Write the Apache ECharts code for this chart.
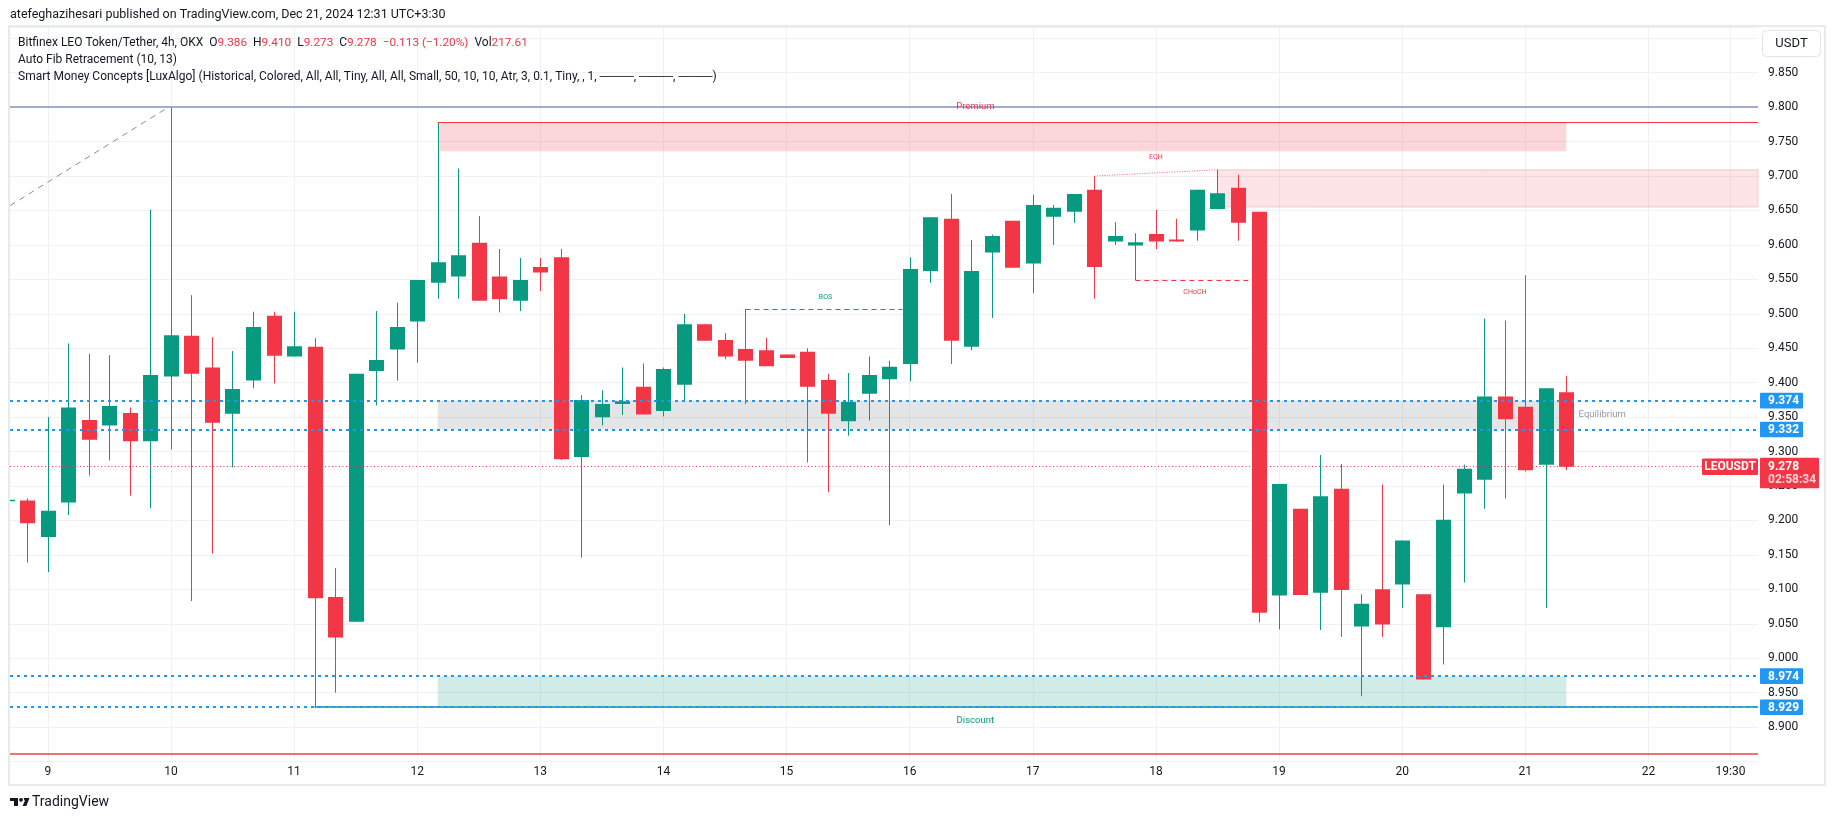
<!DOCTYPE html>
<html><head><meta charset="utf-8">
<script src="https://cdn.jsdelivr.net/npm/echarts@6/dist/echarts.min.js"></script>
<style>html,body{margin:0;padding:0;background:#fff;}#c{width:1835px;height:821px;}</style>
</head><body><div id="c"></div>
<script>
// ---------- data ----------
const firstIndex = -1; // candle index of first entry (partially visible candle)
const opens  = [9.228,9.229,9.176,9.226,9.346,9.338,9.356,9.315,9.409,9.468,9.422,9.355,9.403,9.497,9.438,9.452,9.089,9.053,9.417,9.448,9.489,9.545,9.554,9.603,9.554,9.519,9.568,9.582,9.292,9.350,9.369,9.394,9.359,9.397,9.485,9.462,9.449,9.447,9.441,9.445,9.404,9.344,9.384,9.405,9.427,9.562,9.638,9.452,9.589,9.635,9.573,9.641,9.648,9.680,9.605,9.599,9.616,9.608,9.621,9.652,9.683,9.648,9.091,9.217,9.095,9.246,9.046,9.100,9.107,9.093,9.045,9.239,9.259,9.380,9.365,9.281,9.386];
const highs  = [9.232,9.232,9.350,9.457,9.442,9.440,9.364,9.651,9.800,9.527,9.466,9.446,9.503,9.503,9.503,9.465,9.131,9.413,9.504,9.516,9.549,9.778,9.711,9.642,9.594,9.581,9.581,9.594,9.382,9.389,9.422,9.428,9.422,9.500,9.485,9.472,9.507,9.465,9.441,9.450,9.413,9.414,9.438,9.432,9.582,9.640,9.674,9.607,9.615,9.635,9.673,9.658,9.674,9.700,9.633,9.617,9.651,9.638,9.680,9.709,9.702,9.648,9.253,9.217,9.295,9.282,9.093,9.252,9.171,9.093,9.252,9.281,9.493,9.490,9.556,9.392,9.410];
const lows   = [9.226,9.139,9.125,9.208,9.265,9.287,9.236,9.218,9.303,9.083,9.152,9.277,9.392,9.399,9.438,8.929,8.950,9.053,9.367,9.403,9.429,9.522,9.522,9.519,9.502,9.504,9.533,9.288,9.146,9.338,9.353,9.354,9.351,9.373,9.461,9.434,9.369,9.424,9.436,9.284,9.241,9.323,9.345,9.193,9.402,9.545,9.427,9.447,9.494,9.567,9.530,9.600,9.632,9.522,9.600,9.549,9.594,9.605,9.606,9.652,9.606,9.052,9.042,9.092,9.041,9.031,8.945,9.031,9.073,8.969,8.991,9.110,9.217,9.232,9.271,9.073,9.273];
const closes = [9.230,9.196,9.214,9.364,9.317,9.366,9.315,9.411,9.469,9.413,9.342,9.391,9.481,9.439,9.453,9.087,9.030,9.413,9.433,9.481,9.549,9.575,9.585,9.519,9.521,9.549,9.560,9.289,9.375,9.369,9.373,9.354,9.420,9.485,9.461,9.438,9.432,9.424,9.436,9.394,9.355,9.372,9.411,9.423,9.565,9.640,9.461,9.562,9.613,9.567,9.658,9.654,9.674,9.568,9.613,9.604,9.605,9.605,9.680,9.675,9.632,9.066,9.253,9.092,9.235,9.099,9.079,9.049,9.171,8.969,9.201,9.275,9.380,9.347,9.273,9.392,9.278];

// time axis ticks (candle index) and their labels
const timeTicks  = [1,7,13,19,25,31,37,43,49,55,61,67,73,79,83];
const timeLabels = ['9','10','11','12','13','14','15','16','17','18','19','20','21','22','19:30'];

// levels
const fibTopLevel = 9.800;
const fibBottomLevel = 8.862;
const blueLevels = [9.374, 9.332, 8.974, 8.929];
const lastPrice = 9.278;
const countdown = '02:58:34';
const symbolName = 'LEOUSDT';
const strongHigh = [20, 9.778];
const strongLow = [14, 8.929];
// zones: [xStart, xEnd, top, bottom]  (xEnd null = to right edge)
const premiumZone = [20, 75, 9.778, 9.736];
const supplyZone = [58, null, 9.709, 9.655];
const equilibriumZone = [20, 75, 9.374, 9.332];
const discountZone = [20, 75, 8.974, 8.929];
// structure lines
const bosLine = [35, 42.65, 9.507];
const chochLine = [54, 59.8, 9.549];
const eqhLine = [[52, 9.700], [58, 9.709]];
const fibTrend = [[-0.84, 9.657], [6.72, 9.797]];
// annotation texts: [x, price, text, color, align, size]
const annotations = [
  [46.2, 9.800, 'Premium', '#F23645', 'center', 9.5],
  [46.2, 8.910, 'Discount', '#089981', 'center', 9.5],
  [75.6, 9.354, 'Equilibrium', '#9598a1', 'left', 9.5],
  [38.9, 9.524, 'BOS', '#089981', 'center', 7],
  [56.9, 9.531, 'CHoCH', '#F23645', 'center', 7],
  [55.0, 9.727, 'EQH', '#F23645', 'center', 7]
];

const headerText = 'atefeghazihesari published on TradingView.com, Dec 21, 2024 12:31 UTC+3:30';
const legend1 = 'Bitfinex LEO Token/Tether, 4h, OKX  O{r|9.386}  H{r|9.410}  L{r|9.273}  C{r|9.278}  {r|\u22120.113 (\u22121.20%)}  Vol{r|217.61}';
const legend2 = 'Auto Fib Retracement (10, 13)';
const legend3 = 'Smart Money Concepts [LuxAlgo] (Historical, Colored, All, All, Tiny, All, All, Small, 50, 10, 10, Atr, 3, 0.1, Tiny, , 1, \u2500\u2500\u2500\u2500, \u2500\u2500\u2500\u2500, \u2500\u2500\u2500\u2500)';

// ---------- chart ----------
const UP = '#089981', DOWN = '#F23645', BLUE = '#2196F3';
const FONT = 'Roboto, "Noto Sans", sans-serif';
const X_MIN = -0.843, X_MAX = 84.342;
const Y_MIN = 8.85, Y_MAX = 9.9163;

const candleData = opens.map((o, i) => [firstIndex + i, o, closes[i], lows[i], highs[i]]);

function zoneArea(z, color, border) {
  return [{ coord: [z[0], z[2]], itemStyle: { color: color, borderColor: border || 'transparent', borderWidth: border ? 1 : 0 } },
          { coord: [z[1] === null ? X_MAX : z[1], z[3]] }];
}

const chart = echarts.init(document.getElementById('c'), null, { renderer: 'canvas' });
chart.setOption({
  animation: false,
  backgroundColor: '#ffffff',
  grid: { left: 10, right: 77, top: 27, bottom: 59.4, containLabel: false },
  xAxis: {
    type: 'value', min: X_MIN, max: X_MAX,
    axisLine: { show: false },
    axisTick: { show: false, customValues: timeTicks },
    axisLabel: {
      customValues: timeTicks, margin: 4, color: '#131722', fontSize: 12, fontFamily: FONT,
      formatter: v => { const k = timeTicks.findIndex(t => Math.abs(t - v) < 1e-6); return k >= 0 ? timeLabels[k] : ''; }
    },
    splitLine: { show: true, lineStyle: { color: '#f0f1f4', width: 1 } }
  },
  yAxis: {
    type: 'value', position: 'right', min: Y_MIN, max: Y_MAX, interval: 0.05,
    axisLine: { show: false }, axisTick: { show: false },
    axisLabel: {
      margin: 10, color: '#131722', fontSize: 12, fontFamily: FONT,
      formatter: v => { const k = Math.round(v * 20); if (Math.abs(v * 20 - k) > 1e-6 || k < 178 || k > 197) return ''; return v.toFixed(3); }
    },
    splitLine: { show: true, lineStyle: { color: '#f0f1f4', width: 1 } }
  },
  series: [
    { // zones
      type: 'line', data: [], silent: true, z: 1,
      markArea: {
        silent: true,
        data: [
          zoneArea(premiumZone, 'rgba(242,54,69,0.2)'),
          zoneArea(supplyZone, 'rgba(242,54,69,0.13)', 'rgba(242,54,69,0.22)'),
          zoneArea(equilibriumZone, 'rgba(120,123,134,0.2)'),
          zoneArea(discountZone, 'rgba(8,153,129,0.19)')
        ]
      }
    },
    { // candles
      type: 'custom', z: 3, clip: true,
      data: candleData,
      renderItem: (params, api) => {
        const x = api.value(0), o = api.value(1), c = api.value(2), l = api.value(3), h = api.value(4);
        const pO = api.coord([x, o]), pC = api.coord([x, c]), pL = api.coord([x, l]), pH = api.coord([x, h]);
        const w = api.size([1, 0])[0] * 0.73;
        const color = c >= o ? UP : DOWN;
        const top = Math.min(pO[1], pC[1]);
        const bh = Math.max(1, Math.abs(pO[1] - pC[1]));
        const cx = Math.round(pO[0]) + 0.5;
        return { type: 'group', children: [
          { type: 'line', shape: { x1: cx, y1: pH[1], x2: cx, y2: pL[1] }, style: { stroke: color, lineWidth: 1 } },
          { type: 'rect', shape: { x: cx - w / 2, y: top, width: w, height: bh }, style: { fill: color } }
        ] };
      }
    },
    { // levels and structure lines
      type: 'line', data: [], silent: true, z: 4,
      markLine: {
        silent: true, symbol: 'none', label: { show: false }, animation: false, precision: 4,
        data: [
          { yAxis: fibTopLevel, lineStyle: { color: '#8790bd', width: 1.5, type: 'solid' } },
          { yAxis: fibBottomLevel, lineStyle: { color: '#e5483e', width: 1.5, type: 'solid' } },
          [{ coord: strongHigh, lineStyle: { color: '#F23645', width: 1, type: 'solid' } }, { coord: [X_MAX, strongHigh[1]] }],
          [{ coord: strongLow, lineStyle: { color: '#089981', width: 1.5, type: 'solid' } }, { coord: [X_MAX, strongLow[1]] }],
          ...blueLevels.map(v => ({ yAxis: v, lineStyle: { color: BLUE, width: 2, type: [3, 4] } })),
          { yAxis: lastPrice, lineStyle: { color: DOWN, width: 1, type: [1, 2.5] } },
          [{ coord: [bosLine[0], bosLine[2]], lineStyle: { color: '#089981', width: 1, type: [5, 4] } }, { coord: [bosLine[1], bosLine[2]] }],
          [{ coord: [chochLine[0], chochLine[2]], lineStyle: { color: '#F23645', width: 1, type: [5, 4] } }, { coord: [chochLine[1], chochLine[2]] }],
          [{ coord: eqhLine[0], lineStyle: { color: '#f36d78', width: 1, type: [1, 1.5] } }, { coord: eqhLine[1] }],
          [{ coord: fibTrend[0], lineStyle: { color: '#8a8d96', width: 1, type: [6, 5] } }, { coord: fibTrend[1] }]
        ]
      }
    },
    { // annotation texts
      type: 'custom', z: 5, silent: true,
      data: annotations.map(a => [a[0], a[1]]),
      renderItem: (params, api) => {
        const a = annotations[params.dataIndex];
        const p = api.coord([a[0], a[1]]);
        return { type: 'text', x: p[0], y: p[1], style: { text: a[2], fill: a[3], font: a[5] + 'px ' + FONT, align: a[4], verticalAlign: 'middle' } };
      }
    },
    { // right axis tags
      type: 'custom', z: 10, silent: true, clip: false,
      data: [...blueLevels.map(v => [X_MAX, v]), [X_MAX, lastPrice]],
      renderItem: (params, api) => {
        const p = api.coord([api.value(0), api.value(1)]);
        const gx = p[0], y = p[1];
        const i = params.dataIndex;
        if (i < blueLevels.length) {
          return { type: 'group', children: [
            { type: 'rect', shape: { x: gx + 2, y: y - 7.8, width: 43, height: 15.6, r: 1 }, style: { fill: BLUE } },
            { type: 'text', x: gx + 10, y: y + 0.5, style: { text: blueLevels[i].toFixed(3), fill: '#fff', font: 'bold 12px ' + FONT, verticalAlign: 'middle' } }
          ] };
        }
        return { type: 'group', children: [
          { type: 'rect', shape: { x: gx + 2, y: y - 9.1, width: 59, height: 30.6, r: 1 }, style: { fill: DOWN } },
          { type: 'text', x: gx + 10, y: y + 0.5, style: { text: lastPrice.toFixed(3), fill: '#fff', font: 'bold 12px ' + FONT, verticalAlign: 'middle' } },
          { type: 'text', x: gx + 10, y: y + 13, style: { text: countdown, fill: 'rgba(255,255,255,0.78)', font: 'bold 12px ' + FONT, verticalAlign: 'middle' } },
          { type: 'rect', shape: { x: gx - 56, y: y - 8.3, width: 56, height: 16.6, r: 1 }, style: { fill: DOWN } },
          { type: 'text', x: gx - 28, y: y + 0.5, style: { text: symbolName, fill: '#fff', font: 'bold 12px ' + FONT, align: 'center', verticalAlign: 'middle' } }
        ] };
      }
    }
  ],
  graphic: [
    { type: 'text', left: 10, top: 8, style: { text: headerText, fill: '#131722', font: '12.5px ' + FONT } },
    { type: 'rect', shape: { x: 9, y: 26, width: 1816, height: 759 }, style: { fill: 'none', stroke: '#e9eaee', lineWidth: 2 }, z: 100 },
    { type: 'text', left: 18, top: 37, style: { text: legend1, fill: '#131722', font: '12px ' + FONT, rich: { r: { fill: '#F23645', font: '11.8px ' + FONT } } }, z: 100 },
    { type: 'text', left: 18, top: 54, style: { text: legend2, fill: '#131722', font: '12px ' + FONT }, z: 100 },
    { type: 'text', left: 18, top: 71, style: { text: legend3, fill: '#131722', font: '12px ' + FONT }, z: 100 },
    { type: 'rect', shape: { x: 1762.5, y: 30.5, width: 58, height: 26, r: 4 }, style: { fill: '#fff', stroke: '#e0e3eb', lineWidth: 1 }, z: 100 },
    { type: 'text', x: 1791.5, y: 43.5, style: { text: 'USDT', fill: '#131722', font: '13px ' + FONT, align: 'center', verticalAlign: 'middle' }, z: 101 },
    // TradingView logo
    { type: 'rect', shape: { x: 10, y: 798, width: 8, height: 3 }, style: { fill: '#131722' }, z: 100 },
    { type: 'rect', shape: { x: 14, y: 798, width: 4, height: 8 }, style: { fill: '#131722' }, z: 100 },
    { type: 'circle', shape: { cx: 21, cy: 799.8, r: 1.9 }, style: { fill: '#131722' }, z: 100 },
    { type: 'polygon', shape: { points: [[23.5, 798], [29.5, 798], [26.3, 806], [22.6, 806], [24.8, 801]] }, style: { fill: '#131722' }, z: 100 },
    { type: 'text', left: 32, top: 795, style: { text: 'TradingView', fill: '#131722', font: '14px ' + FONT }, z: 100 }
  ]
});
</script></body></html>
